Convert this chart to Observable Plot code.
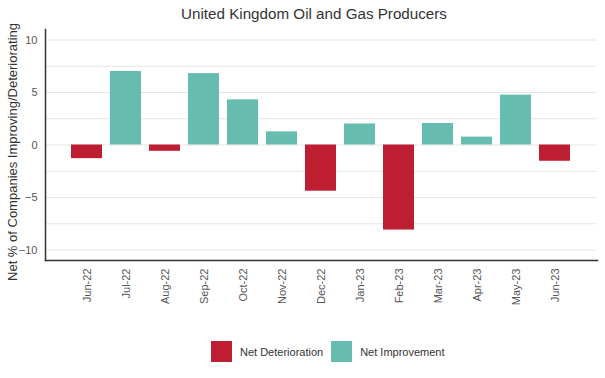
<!DOCTYPE html>
<html>
<head>
<meta charset="utf-8">
<script src="https://cdn.jsdelivr.net/npm/d3@7"></script>
<script src="https://cdn.jsdelivr.net/npm/@observablehq/plot@0.6"></script>
<style>
  html, body { margin: 0; padding: 0; background: #fff; }
  #wrap { position: relative; width: 605px; height: 378px; font-family: "Liberation Sans", Arial, sans-serif; }
  #title { position: absolute; top: 5px; left: 0; width: 628px; text-align: center; font-size: 15.2px; color: #333; }
  #chart { position: absolute; top: 0; left: 0; }
  #legend { position: absolute; top: 341px; left: 211px; display: flex; align-items: center; font-size: 11px; color: #333; }
  .sw { width: 21px; height: 21px; display: inline-block; margin-right: 8px; }
  .item { display: flex; align-items: center; margin-right: 8px; }
</style>
</head>
<body>
<div id="wrap">
  <div id="chart"></div>
  <div id="title">United Kingdom Oil and Gas Producers</div>
  <div id="legend"></div>
</div>
<script>
const months = ["Jun-22","Jul-22","Aug-22","Sep-22","Oct-22","Nov-22","Dec-22","Jan-23","Feb-23","Mar-23","Apr-23","May-23","Jun-23"];
const values = [-1.3, 7.0, -0.6, 6.8, 4.3, 1.25, -4.4, 2.0, -8.1, 2.05, 0.75, 4.75, -1.55];
const seriesNames = ["Net Deterioration", "Net Improvement"];
const seriesColors = ["#be1e32", "#66bcaf"];
const yTickLabels = [-10, -5, 0, 5, 10];
const gridValues = [-10, -7.5, -5, -2.5, 0, 2.5, 5, 7.5, 10];

const data = months.map((m, i) => ({month: m, value: values[i], series: values[i] < 0 ? seriesNames[0] : seriesNames[1]}));

const chart = Plot.plot({
  width: 605,
  height: 330,
  marginTop: 29,
  marginBottom: 70,
  marginLeft: 45,
  marginRight: 8,
  style: {fontFamily: '"Liberation Sans", Arial, sans-serif', fontSize: "11px", color: "#444", background: "transparent"},
  x: {domain: months, paddingInner: 0.2, paddingOuter: 0.64, label: null},
  y: {domain: [-11, 11], label: null},
  color: {domain: seriesNames, range: seriesColors},
  marks: [
    Plot.ruleY(gridValues, {stroke: "#e6e6e6", strokeWidth: 1}),
    Plot.barY(data, {x: "month", y: "value", fill: "series"}),
    Plot.axisY(yTickLabels, {tickSize: 0, tickPadding: 8, label: null, fill: "#555", fontSize: 11}),
    Plot.axisX({tickSize: 0, tickPadding: 8, tickRotate: -90, label: null, fill: "#555", fontSize: 11}),
    Plot.frame({anchor: "left", stroke: "#333", strokeWidth: 1.5}),
    Plot.frame({anchor: "bottom", stroke: "#333", strokeWidth: 1.5}),
    Plot.text(["Net % of Companies Improving/Deteriorating"], {
      frameAnchor: "left", dx: -33, dy: 7, rotate: -90, fontSize: 13, fill: "#333", textAnchor: "middle"
    })
  ]
});
document.getElementById("chart").appendChild(chart);

const legend = document.getElementById("legend");
seriesNames.forEach((name, i) => {
  const item = document.createElement("div");
  item.className = "item";
  const sw = document.createElement("span");
  sw.className = "sw";
  sw.style.background = seriesColors[i];
  item.appendChild(sw);
  const t = document.createElement("span");
  t.textContent = name;
  item.appendChild(t);
  legend.appendChild(item);
});
</script>
</body>
</html>
